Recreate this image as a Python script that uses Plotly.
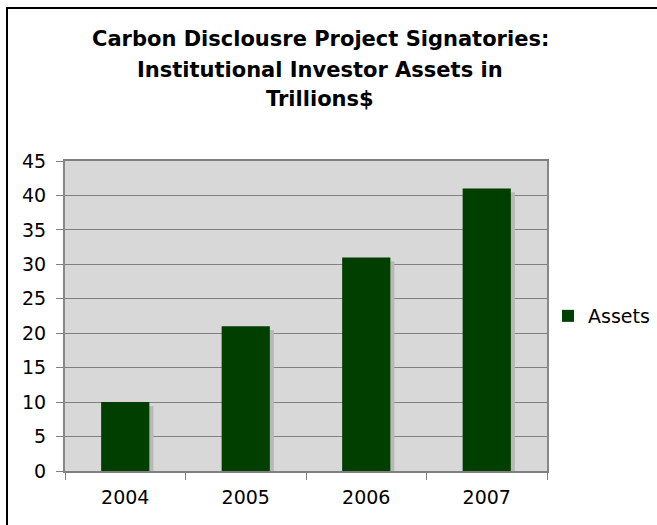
import plotly.graph_objects as go

years = ["2004", "2005", "2006", "2007"]
assets = [10, 21, 31, 41]
series_name = "Assets"
title_lines = ["Carbon Disclousre Project Signatories:", "Institutional Investor Assets in", "Trillions$"]

W, H = 657, 525
L, R, T, B = 65, 110, 161, 54
pw, ph = W - L - R, H - T - B

fig = go.Figure()
# shadow
fig.add_trace(go.Bar(
    x=years, y=[v - 0.55 for v in assets], width=0.4, offset=-0.2 + 4 / 120,
    marker=dict(color="#b8b8b8", line=dict(width=0)), showlegend=False, hoverinfo="skip"))
fig.add_trace(go.Bar(
    x=years, y=assets, name=series_name, width=0.4, offset=-0.2,
    marker=dict(color="#003f00", line=dict(width=0))))

font = "DejaVu Sans"
title_centers = [39, 70, 99]
annotations = [dict(text=f"<b>{t}</b>", xref="paper", yref="paper",
                    x=(320 - L) / pw, y=1 + (T - yc) / ph, xanchor="center", yanchor="middle",
                    showarrow=False, font=dict(family=font, size=21, color="black"))
               for t, yc in zip(title_lines, title_centers)]

fig.update_layout(
    width=W, height=H, barmode="overlay",
    margin=dict(l=L, r=R, t=T, b=B, autoexpand=False),
    paper_bgcolor="white", plot_bgcolor="#d8d8d8",
    font=dict(family=font, size=19, color="black"),
    annotations=annotations,
    showlegend=True,
    legend=dict(x=(548 - L) / pw, xanchor="left", y=0.5, yanchor="middle",
                font=dict(size=19), bgcolor="rgba(0,0,0,0)", itemwidth=30),
    xaxis=dict(type="category", showgrid=False, showline=True, linecolor="#808080",
               linewidth=2, mirror=True, ticks="outside", tickson="boundaries",
               ticklen=7, tickcolor="#808080", tickfont=dict(size=19), ticklabelstandoff=8),
    yaxis=dict(range=[0, 45], dtick=5, showgrid=True, gridcolor="#808080", gridwidth=1,
               showline=True, linecolor="#888888", linewidth=2, mirror=True,
               ticks="outside", ticklen=7, tickcolor="#808080", tickfont=dict(size=19),
               ticklabelstandoff=6, zeroline=False),
    shapes=[dict(type="rect", xref="paper", yref="paper",
                 x0=(7 - L) / pw, x1=(W + 20 - L) / pw,
                 y0=-(B + 20) / ph, y1=1 + (T - 8) / ph,
                 line=dict(color="black", width=2), fillcolor="rgba(0,0,0,0)", layer="above")],
)

fig.write_html("out.html")
